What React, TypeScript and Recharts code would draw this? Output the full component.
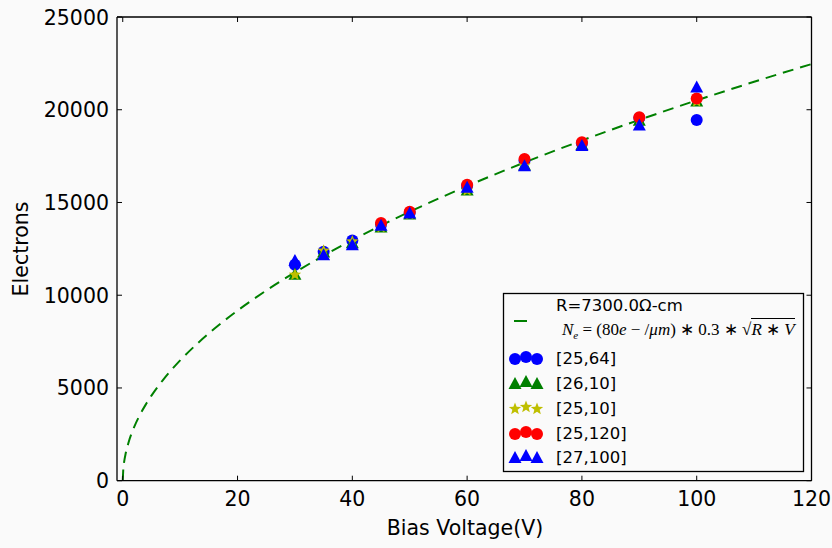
import React from 'react';
import { ComposedChart, Line, Scatter, XAxis, YAxis } from 'recharts';

// bias voltages measured, per sample
const voltages = [30, 35, 40, 45, 50, 60, 70, 80, 90, 100];
const voltagesHigh = [45, 50, 60, 70, 80, 90, 100];
const elec25x64 = [11640, 12350, 12950, 13800, 14450, 15900, 17250, 18200, 19550, 19450];
const elec26x10 = [11100, 12300, 12800, 13650, 14350, 15650, 17000, 18100, 19400, 20450];
const elec25x10 = [11100, 12400, 12900, 13650, 14350, 15650, 17000, 18100, 19400, 20450];
const elec25x120 = [13900, 14500, 15950, 17350, 18250, 19600, 20600];
const elec27x100 = [11850, 12150, 12700, 13750, 14400, 15800, 16950, 18050, 19150, 21200];

// fit curve
const fitV = [0, 0.1, 0.25, 0.5, 1, 2, 3, 4, 5, 7, 10, 13, 16, 20, 25, 30, 35, 40, 45, 50, 55, 60, 70, 80, 90, 100, 110, 120];
const fitN = [0, 648, 1025, 1450, 2051, 2900, 3552, 4101, 4585, 5425, 6485, 7394, 8202, 9171, 10253, 11232, 12132, 12969, 13756, 14500, 15208, 15884, 17157, 18341, 19454, 20506, 21507, 22463];

const xTicks = [0, 20, 40, 60, 80, 100, 120];
const yTicks = [0, 5000, 10000, 15000, 20000, 25000];

const BG = '#fafafa';
const FONT = '"DejaVu Sans", sans-serif';
const TICK_FS = 20.5;

const toPoints = (xs: number[], ys: number[]) => xs.map((x, i) => ({ x, y: ys[i] }));
const fitData = fitV.map((x, i) => ({ x, y: fitN[i] }));

function circle(color: string, cx: number, cy: number) {
  return <circle cx={cx} cy={cy} r={6} fill={color} />;
}
function triangle(color: string, cx: number, cy: number) {
  return <polygon points={`${cx},${cy - 7} ${cx - 6.5},${cy + 5} ${cx + 6.5},${cy + 5}`} fill={color} />;
}
function star(color: string, cx: number, cy: number) {
  const pts: string[] = [];
  for (let k = 0; k < 10; k++) {
    const r = k % 2 === 0 ? 6.5 : 2.8;
    const a = -Math.PI / 2 + (k * Math.PI) / 5;
    pts.push(`${cx + r * Math.cos(a)},${cy + r * Math.sin(a)}`);
  }
  return <polygon points={pts.join(' ')} fill={color} />;
}

type MarkerFn = (color: string, cx: number, cy: number) => React.ReactElement;

const series: { name: string; xs: number[]; data: number[]; color: string; marker: MarkerFn }[] = [
  { name: '[25,64]', xs: voltages, data: elec25x64, color: '#0000ff', marker: circle },
  { name: '[26,10]', xs: voltages, data: elec26x10, color: '#008000', marker: triangle },
  { name: '[25,10]', xs: voltages, data: elec25x10, color: '#bfbf00', marker: star },
  { name: '[25,120]', xs: voltagesHigh, data: elec25x120, color: '#ff0000', marker: circle },
  { name: '[27,100]', xs: voltages, data: elec27x100, color: '#0000ff', marker: triangle },
];

const BottomTick = (p: any) => (
  <g>
    <line x1={p.x} y1={p.y} x2={p.x} y2={p.y - 5} stroke="#000" />
    <text x={p.x} y={p.y + 25} textAnchor="middle" fontFamily={FONT} fontSize={TICK_FS} fill="#000">
      {p.payload.value}
    </text>
  </g>
);
const TopTick = (p: any) => <line x1={p.x} y1={p.y} x2={p.x} y2={p.y + 5} stroke="#000" />;
const LeftTick = (p: any) => (
  <g>
    <line x1={p.x} y1={p.y} x2={p.x + 5} y2={p.y} stroke="#000" />
    <text x={p.x - 8} y={p.y + 7.5} textAnchor="end" fontFamily={FONT} fontSize={TICK_FS} fill="#000">
      {p.payload.value}
    </text>
  </g>
);
const RightTick = (p: any) => <line x1={p.x} y1={p.y} x2={p.x - 5} y2={p.y} stroke="#000" />;

function LegendBox() {
  const rowY = [358, 383, 408, 433, 457];
  const mx = [515, 526, 537];
  const my = [1, -1, 1];
  return (
    <>
      <svg width={832} height={548} style={{ position: 'absolute', left: 0, top: 0 }}>
        <rect x={503.5} y={293.5} width={300} height={178} fill={BG} stroke="#000" strokeWidth={1.3} />
        <line x1={514} y1={321} x2={527} y2={321} stroke="#008000" strokeWidth={2} />
        <text x={556} y={311} fontFamily={FONT} fontSize={16.5} fill="#000">
          R=7300.0Ω-cm
        </text>
        {series.map((s, i) => (
          <g key={s.name}>
            {mx.map((x, j) => (
              <g key={j}>{s.marker(s.color, x, rowY[i] + my[j])}</g>
            ))}
            <text x={556} y={rowY[i] + 6} fontFamily={FONT} fontSize={16.5} fill="#000">
              {s.name}
            </text>
          </g>
        ))}
      </svg>
      <div
        style={{
          position: 'absolute',
          left: 562,
          top: 320,
          fontFamily: '"Liberation Serif", serif',
          fontSize: 17,
          lineHeight: '20px',
          whiteSpace: 'nowrap',
          color: '#000',
        }}
      >
        <i>N</i>
        <sub style={{ fontSize: 11 }}>
          <i>e</i>
        </sub>{' '}
        = (80<i>e</i> − /<i>μm</i>) ∗ 0.3 ∗ √
        <span style={{ borderTop: '1px solid #000', paddingTop: 1 }}>
          <i>R</i> ∗ <i>V</i>
        </span>
      </div>
    </>
  );
}

export default function App() {
  return (
    <div style={{ position: 'absolute', left: 0, top: 0, width: 832, height: 548, background: BG, overflow: 'hidden' }}>
      <ComposedChart width={832} height={548} margin={{ top: 16, right: 19.5, left: 0, bottom: 0 }}>
        <XAxis
          dataKey="x"
          type="number"
          domain={[-1, 120]}
          ticks={xTicks}
          allowDataOverflow
          height={67.3}
          tickSize={0}
          tickMargin={0}
          tick={<BottomTick />}
          axisLine={{ stroke: '#000', strokeWidth: 1.3 }}
        />
        <XAxis
          xAxisId="top"
          orientation="top"
          dataKey="x"
          type="number"
          domain={[-1, 120]}
          ticks={xTicks}
          allowDataOverflow
          height={1}
          tickSize={0}
          tickMargin={0}
          tick={<TopTick />}
          axisLine={{ stroke: '#000', strokeWidth: 1.3 }}
        />
        <YAxis
          dataKey="y"
          type="number"
          domain={[0, 25000]}
          ticks={yTicks}
          allowDataOverflow
          width={117}
          tickSize={0}
          tickMargin={0}
          tick={<LeftTick />}
          axisLine={{ stroke: '#000', strokeWidth: 1.3 }}
        />
        <YAxis
          yAxisId="right"
          orientation="right"
          dataKey="y"
          type="number"
          domain={[0, 25000]}
          ticks={yTicks}
          allowDataOverflow
          width={1}
          tickSize={0}
          tickMargin={0}
          tick={<RightTick />}
          axisLine={{ stroke: '#000', strokeWidth: 1.3 }}
        />
        <Line
          xAxisId="top"
          yAxisId="right"
          data={fitData}
          dataKey="y"
          type="monotone"
          stroke="#008000"
          strokeWidth={2}
          strokeDasharray="11 7"
          dot={false}
          activeDot={false}
          isAnimationActive={false}
        />
        {series.map(s => (
          <Scatter
            key={s.name}
            name={s.name}
            data={toPoints(s.xs, s.data)}
            dataKey="y"
            fill={s.color}
            shape={(p: any) => s.marker(s.color, p.cx, p.cy)}
            isAnimationActive={false}
          />
        ))}
      </ComposedChart>
      <svg width={832} height={548} style={{ position: 'absolute', left: 0, top: 0, pointerEvents: 'none' }}>
        <text x={465} y={535} textAnchor="middle" fontFamily={FONT} fontSize={TICK_FS} fill="#000">
          Bias Voltage(V)
        </text>
        <text
          x={28}
          y={249}
          textAnchor="middle"
          fontFamily={FONT}
          fontSize={TICK_FS}
          fill="#000"
          transform="rotate(-90 28 249)"
        >
          Electrons
        </text>
      </svg>
      <LegendBox />
    </div>
  );
}
